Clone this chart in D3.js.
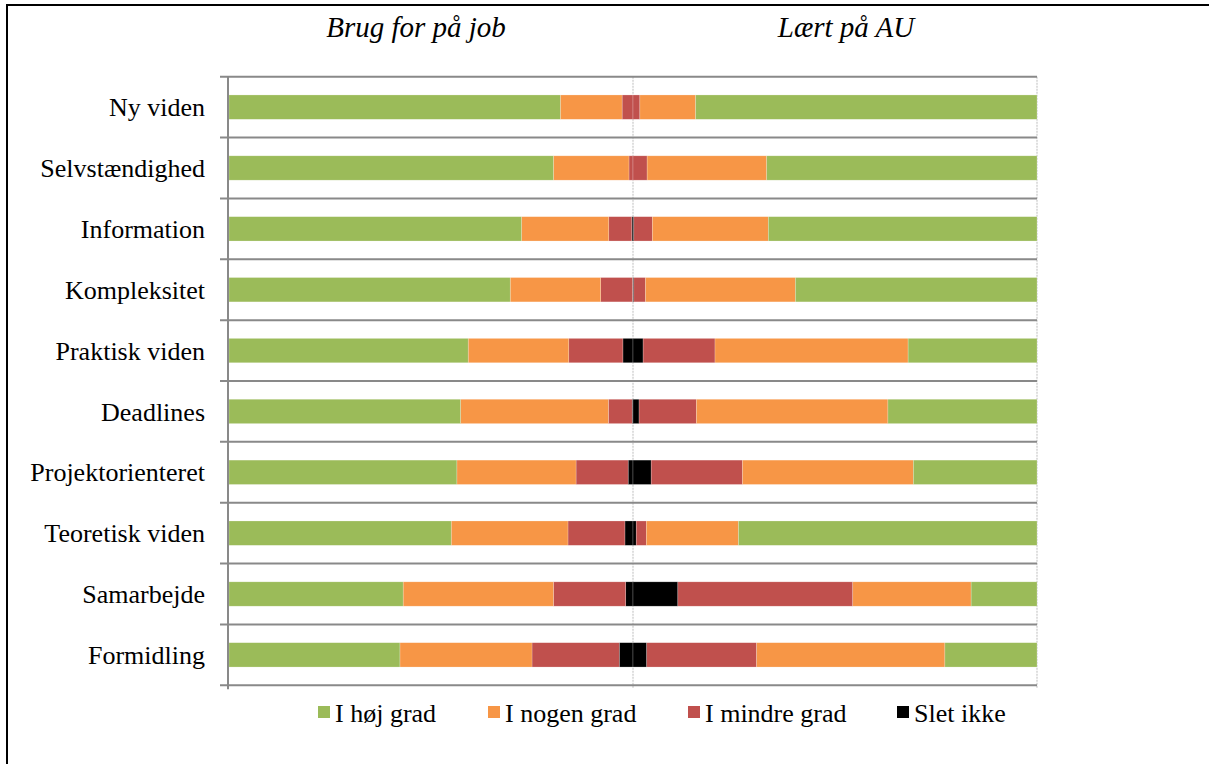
<!DOCTYPE html>
<html>
<head>
<meta charset="utf-8">
<script src="https://cdn.jsdelivr.net/npm/d3@7"></script>
</head>
<body style="margin:0;background:#fff">
<div id="wrap" style="position:relative;width:1209px;height:764px;overflow:hidden">
<svg id="chart" width="1209" height="764" style="display:block;position:absolute;left:0;top:0"></svg>
</div>
<script>
// categories, top to bottom
const categories = ["Ny viden", "Selvstændighed", "Information", "Kompleksitet", "Praktisk viden",
  "Deadlines", "Projektorienteret", "Teoretisk viden", "Samarbejde", "Formidling"];

// answer levels (legend order)
const levels = ["I høj grad", "I nogen grad", "I mindre grad", "Slet ikke"];
const levelColors = ["#9bbb59", "#f79646", "#c0504d", "#000000"];

// "Brug for på job" (%), per category
const jobHoj    = [82.0, 80.3, 72.4, 69.6, 59.2, 57.3, 56.4, 55.0, 43.1, 42.3];
const jobNogen  = [15.3, 18.7, 21.6, 22.4, 24.9, 36.6, 29.5, 28.9, 37.2, 32.7];
const jobMindre = [ 2.7,  1.0,  5.7,  7.9, 13.4,  5.9, 12.9, 14.1, 17.9, 21.6];
const jobSlet   = [ 0.0,  0.0,  0.3,  0.1,  2.5,  0.2,  1.2,  2.0,  1.8,  3.4];

// "Lært på AU" (%), per category
const auHoj    = [84.5, 66.9, 66.5, 59.8, 31.9, 36.9, 30.6, 73.9, 16.3, 22.8];
const auNogen  = [13.8, 29.6, 28.7, 37.1, 47.8, 47.4, 42.3, 22.8, 29.3, 46.6];
const auMindre = [ 1.7,  3.5,  4.6,  2.9, 17.8, 14.2, 22.6,  2.5, 43.3, 27.2];
const auSlet   = [ 0.0,  0.0,  0.2,  0.2,  2.5,  1.5,  4.5,  0.8, 11.1,  3.4];

const titles = ["Brug for på job", "Lært på AU"];

const serif = '"Liberation Serif", Tinos, "Times New Roman", "DejaVu Serif", serif';
const svg = d3.select("#chart");
const wrap = d3.select("#wrap");

// outer frame
svg.append("rect")
  .attr("x", 7).attr("y", 5)
  .attr("width", 1300).attr("height", 800)
  .attr("fill", "none").attr("stroke", "#000").attr("stroke-width", 2);

const plotLeft = 229, plotRight = 1037, plotTop = 76.7, plotBottom = 685.3;

const x = d3.scaleLinear().domain([-100, 100]).range([plotLeft, plotRight]);
const y = d3.scaleBand().domain(categories).range([plotTop, plotBottom])
  .paddingInner(0.6).paddingOuter(0.3);

// stack from the middle outwards
const keys = ["slet", "mindre", "nogen", "hoj"];
const keyColor = { hoj: levelColors[0], nogen: levelColors[1], mindre: levelColors[2], slet: levelColors[3] };
const jobRows = categories.map((c, i) => ({ cat: c, hoj: jobHoj[i], nogen: jobNogen[i], mindre: jobMindre[i], slet: jobSlet[i] }));
const auRows = categories.map((c, i) => ({ cat: c, hoj: auHoj[i], nogen: auNogen[i], mindre: auMindre[i], slet: auSlet[i] }));
const stack = d3.stack().keys(keys);

// vertical dotted gridlines
svg.append("g").selectAll("line")
  .data([0, 100])
  .join("line")
  .attr("x1", d => x(d)).attr("x2", d => x(d))
  .attr("y1", plotTop).attr("y2", plotBottom + 3)
  .attr("stroke", "#c8c8c8").attr("stroke-width", 1.2)
  .attr("stroke-dasharray", "2,1");

// bars
const drawSide = (rows, sign) => {
  svg.append("g").selectAll("g")
    .data(stack(rows))
    .join("g")
    .attr("fill", d => keyColor[d.key])
    .selectAll("rect")
    .data(d => d)
    .join("rect")
    .attr("x", d => sign < 0 ? x(-d[1]) : x(d[0]))
    .attr("width", d => Math.abs(x(d[1]) - x(d[0])))
    .attr("y", d => y(d.data.cat))
    .attr("height", y.bandwidth())
    .attr("stroke", "rgba(255,255,255,0.35)")
    .attr("stroke-width", 0.6);
};
drawSide(jobRows, -1);
drawSide(auRows, 1);

// category separators (category axis gridlines + ticks)
const step = y.step();
const sepY = d3.range(categories.length + 1).map(i => plotTop + i * step);
svg.append("g").selectAll("line")
  .data(sepY)
  .join("line")
  .attr("x1", plotLeft - 9).attr("x2", plotRight)
  .attr("y1", d => d).attr("y2", d => d)
  .attr("stroke", "#898989").attr("stroke-width", 2);

// left axis
svg.append("line")
  .attr("x1", plotLeft - 1).attr("x2", plotLeft - 1)
  .attr("y1", plotTop).attr("y2", plotBottom + 4)
  .attr("stroke", "#898989").attr("stroke-width", 2);

// text as html labels laid over the svg
const label = (txt, left, baseline, size, anchor, italic) => {
  const div = wrap.append("div")
    .style("position", "absolute")
    .style("white-space", "nowrap")
    .style("font-family", serif)
    .style("font-size", size + "px")
    .style("line-height", size + "px")
    .style("font-style", italic ? "italic" : "normal")
    .style("color", "#000")
    .text(txt);
  const w = div.node().getBoundingClientRect().width;
  const lx = anchor === "end" ? left - w : anchor === "middle" ? left - w / 2 : left;
  // baseline sits at roughly 0.8 of the line box for this face
  div.style("left", lx + "px").style("top", (baseline - size * 0.8) + "px");
};

// category labels
categories.forEach(c => label(c, 205, y(c) + y.bandwidth() / 2 + 9, 26, "end", false));

// titles
titles.forEach((t, i) => label(t, i === 0 ? 416 : 846, 36, 29, "middle", true));

// legend
const legendX = [318, 488, 688, 897];
svg.append("g").selectAll("rect")
  .data(levels)
  .join("rect")
  .attr("x", (d, i) => legendX[i]).attr("y", 706)
  .attr("width", 12).attr("height", 12)
  .attr("fill", (d, i) => levelColors[i]);
levels.forEach((l, i) => label(l, legendX[i] + 17, 722, 26, "start", false));
</script>
</body>
</html>
